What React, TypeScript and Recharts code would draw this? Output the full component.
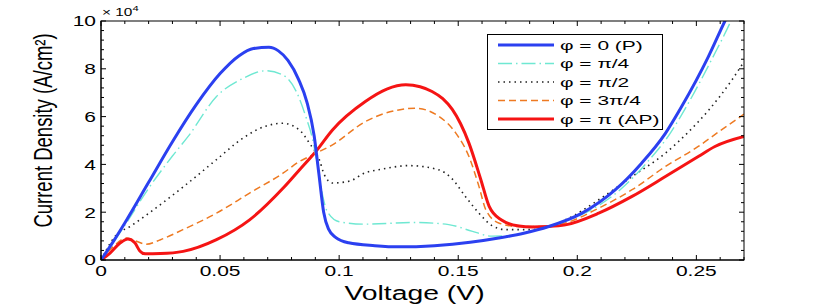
import React from 'react';
import { LineChart, Line, XAxis, YAxis, Legend } from 'recharts';

// ---- data (current density in units of 1e4 A/cm^2, voltage in V) ----
const V_P = [0, 0.005, 0.01, 0.02, 0.03, 0.04, 0.05, 0.058, 0.064, 0.0705, 0.0745, 0.0785, 0.083, 0.0865, 0.0895, 0.0915, 0.0935, 0.0955, 0.0985, 0.104, 0.115, 0.125, 0.14, 0.155, 0.167, 0.1775, 0.188, 0.202, 0.216, 0.227, 0.237, 0.2437, 0.255, 0.262, 0.266];
const J_P = [0, 0.75, 1.55, 3.25, 4.95, 6.5, 7.8, 8.55, 8.85, 8.9, 8.75, 8.35, 7.55, 6.6, 5.2, 3.6, 2.0, 1.3, 0.95, 0.72, 0.6, 0.55, 0.6, 0.74, 0.92, 1.12, 1.4, 1.96, 2.94, 4.05, 5.3, 6.4, 8.5, 10.0, 10.8];

const V_Q1 = [0, 0.005, 0.01, 0.02, 0.03, 0.0366, 0.0485, 0.0596, 0.0694, 0.0764, 0.082, 0.086, 0.0889, 0.0915, 0.0935, 0.095, 0.1, 0.111, 0.132, 0.146, 0.156, 0.164, 0.172, 0.18, 0.19, 0.204, 0.218, 0.229, 0.239, 0.2457, 0.257, 0.2645, 0.268];
const J_Q1 = [0, 0.7, 1.45, 3.0, 4.35, 5.17, 6.84, 7.6, 7.92, 7.74, 7.05, 6.0, 5.03, 3.6, 2.5, 2.03, 1.6, 1.5, 1.57, 1.48, 1.2, 1.0, 1.02, 1.18, 1.48, 2.0, 2.94, 4.05, 5.3, 6.4, 8.5, 10.0, 10.8];

const V_Q2 = [0, 0.006, 0.0125, 0.02, 0.0344, 0.0485, 0.0596, 0.0694, 0.0763, 0.0833, 0.0875, 0.0917, 0.0938, 0.0972, 0.1043, 0.111, 0.118, 0.129, 0.142, 0.147, 0.153, 0.1587, 0.164, 0.17, 0.181, 0.195, 0.209, 0.223, 0.237, 0.2466, 0.255, 0.2647, 0.27];
const J_Q2 = [0, 1.0, 1.42, 1.95, 3.05, 4.2, 5.1, 5.61, 5.72, 5.44, 4.89, 4.19, 3.56, 3.22, 3.3, 3.65, 3.8, 3.95, 3.77, 3.44, 2.66, 1.96, 1.45, 1.27, 1.27, 1.68, 2.52, 3.49, 4.47, 5.35, 6.25, 7.5, 8.3];

const V_Q3 = [0, 0.005, 0.0107, 0.0145, 0.019, 0.025, 0.0344, 0.0485, 0.0624, 0.0764, 0.083, 0.0889, 0.0972, 0.111, 0.125, 0.132, 0.142, 0.149, 0.1545, 0.1587, 0.1616, 0.167, 0.175, 0.185, 0.195, 0.209, 0.223, 0.237, 0.2508, 0.2592, 0.27];
const J_Q3 = [0, 0.55, 0.92, 0.8, 0.66, 0.85, 1.27, 1.96, 2.8, 3.63, 4.1, 4.4, 4.82, 5.79, 6.28, 6.35, 6.0, 5.31, 4.33, 3.08, 2.1, 1.55, 1.4, 1.4, 1.55, 2.17, 2.94, 3.91, 4.75, 5.35, 6.1];

const V_AP = [0, 0.0038, 0.008, 0.0113, 0.0142, 0.0163, 0.0185, 0.025, 0.0345, 0.0485, 0.0624, 0.0764, 0.0833, 0.0903, 0.0972, 0.111, 0.12, 0.128, 0.134, 0.139, 0.1435, 0.1475, 0.151, 0.1545, 0.1595, 0.163, 0.168, 0.1755, 0.181, 0.188, 0.195, 0.209, 0.223, 0.237, 0.2508, 0.2578, 0.27];
const J_AP = [0, 0.29, 0.71, 0.88, 0.72, 0.38, 0.26, 0.27, 0.36, 0.85, 1.68, 3.0, 3.77, 4.55, 5.44, 6.63, 7.15, 7.33, 7.25, 7.05, 6.75, 6.3, 5.7, 4.89, 3.36, 2.24, 1.68, 1.42, 1.38, 1.4, 1.47, 1.96, 2.66, 3.49, 4.33, 4.75, 5.17];

const MAJOR_X = [0, 0.05, 0.1, 0.15, 0.2, 0.25];
const X_LABELS = ['0', '0.05', '0.1', '0.15', '0.2', '0.25'];
const MINOR_X = [0, 0.01, 0.02, 0.03, 0.04, 0.05, 0.06, 0.07, 0.08, 0.09, 0.1, 0.11, 0.12, 0.13, 0.14, 0.15, 0.16, 0.17, 0.18, 0.19, 0.2, 0.21, 0.22, 0.23, 0.24, 0.25, 0.26, 0.27];
const MAJOR_Y = [0, 2, 4, 6, 8, 10];
const Y_LABELS = ['0', '2', '4', '6', '8', '10'];
const MINOR_Y = [0, 0.4, 0.8, 1.2, 1.6, 2, 2.4, 2.8, 3.2, 3.6, 4, 4.4, 4.8, 5.2, 5.6, 6, 6.4, 6.8, 7.2, 7.6, 8, 8.4, 8.8, 9.2, 9.6, 10];

type Series = { key: string; name: string; v: number[]; j: number[]; color: string; width: number; dash?: string };

const SERIES: Series[] = [
  { key: 'q3', name: 'φ = 3π/4', v: V_Q3, j: J_Q3, color: '#ee7a22', width: 1.5, dash: '7 4' },
  { key: 'ap', name: 'φ = π (AP)', v: V_AP, j: J_AP, color: '#f51414', width: 3 },
  { key: 'q2', name: 'φ = π/2', v: V_Q2, j: J_Q2, color: '#222222', width: 1.6, dash: '1.5 4' },
  { key: 'q1', name: 'φ = π/4', v: V_Q1, j: J_Q1, color: '#6fe8d2', width: 1.4, dash: '14 4 1.5 4' },
  { key: 'p', name: 'φ = 0 (P)', v: V_P, j: J_P, color: '#2b40f0', width: 3 },
];
const LEGEND_ORDER = ['p', 'q1', 'q2', 'q3', 'ap'];

// ---- layout ----
const W = 830;
const H = 305;
const MARGIN = { top: 21, right: 86, bottom: 15, left: 41 };
const X_AXIS_H = 30;
const Y_AXIS_W = 60;
const PLOT_W = W - MARGIN.left - MARGIN.right - Y_AXIS_W;
const PLOT_H = H - MARGIN.top - MARGIN.bottom - X_AXIS_H;

const FONT = '"Liberation Sans", Arial, Helvetica, sans-serif';
const SX = 1.4;
const MINOR_LEN = 3;
const MAJOR_LEN = 5;
const TM = 5;

const idxOf = (v: number, list: number[]) => list.findIndex((m) => Math.abs(m - v) < 1e-9);

// bottom axis tick: inward tick on the bottom and the matching one on the top edge of the frame
const BottomTick = (props: any) => {
  const { x, y, payload } = props;
  const i = idxOf(payload.value, MAJOR_X);
  const base = y - TM;
  const top = base - PLOT_H;
  const len = i < 0 ? MINOR_LEN : MAJOR_LEN;
  return (
    <g>
      <path d={`M${x},${base}V${base - len}M${x},${top}V${top + len}`} stroke="#000" strokeWidth={1} fill="none" />
      {i >= 0 && (
        <text transform={`translate(${x},${y}) scale(${SX},1)`} textAnchor="middle" dy="0.71em" fontSize={15} fontFamily={FONT} fill="#000">
          {X_LABELS[i]}
        </text>
      )}
    </g>
  );
};

// left axis tick: inward tick on the left and the matching one on the right edge of the frame
const LeftTick = (props: any) => {
  const { x, y, payload } = props;
  const i = idxOf(payload.value, MAJOR_Y);
  const base = x + TM;
  const right = base + PLOT_W;
  const len = i < 0 ? MINOR_LEN : MAJOR_LEN;
  return (
    <g>
      <path d={`M${base},${y}H${base + len}M${right},${y}H${right - len}`} stroke="#000" strokeWidth={1} fill="none" />
      {i >= 0 && (
        <text transform={`translate(${x},${y}) scale(${SX},1)`} textAnchor="end" dy="0.36em" fontSize={15} fontFamily={FONT} fill="#000">
          {Y_LABELS[i]}
        </text>
      )}
    </g>
  );
};

const XLabel = (props: any) => {
  const vb = props.viewBox || { x: 101, y: 260, width: PLOT_W, height: X_AXIS_H };
  const cx = vb.x + vb.width / 2 - 8;
  return (
    <g>
      <rect x={vb.x} y={vb.y - PLOT_H} width={vb.width} height={PLOT_H} fill="none" stroke="#000" strokeWidth={1} />
      <text transform={`translate(${cx},${vb.y + 40}) scale(1.35,1)`} textAnchor="middle" fontSize={21} fontFamily={FONT} fill="#000">
        Voltage (V)
      </text>
    </g>
  );
};

const YLabel = (props: any) => {
  const vb = props.viewBox || { x: 41, y: 21, width: Y_AXIS_W, height: PLOT_H };
  const cy = vb.y + vb.height / 2 - 10;
  return (
    <g>
      <text transform={`translate(${vb.x + 11},${cy}) rotate(-90) scale(1,${SX})`} textAnchor="middle" fontSize={18.5} fontFamily={FONT} fill="#000">
        Current Density (A/cm²)
      </text>
      <text transform={`translate(${vb.x + vb.width + 1},${vb.y - 5}) scale(${SX},1)`} fontSize={11} fontFamily={FONT} fill="#000">
        × 10<tspan dy={-5} fontSize={8}>4</tspan>
      </text>
    </g>
  );
};

const LegendBox = () => {
  const rows = LEGEND_ORDER.map((k) => SERIES.find((s) => s.key === k)!);
  return (
    <svg width={177} height={97} style={{ display: 'block' }}>
      <rect x={0.5} y={0.5} width={175} height={95} fill="#fff" stroke="#000" />
      {rows.map((s, i) => {
        const y = 11 + i * 18.5;
        return (
          <g key={s.key}>
            <line x1={11} x2={67} y1={y} y2={y} stroke={s.color} strokeWidth={s.width} strokeDasharray={s.dash} />
            <text transform={`translate(73,${y}) scale(1.55,1)`} dy="0.36em" fontSize={13.5} fontFamily={FONT} fill="#000">
              {s.name}
            </text>
          </g>
        );
      })}
    </svg>
  );
};

export default function App() {
  return (
    <div style={{ position: 'absolute', left: 0, top: 0, width: W, height: H, background: '#fff' }}>
      <LineChart width={W} height={H} margin={MARGIN}>
        <XAxis
          xAxisId="b"
          type="number"
          dataKey="v"
          domain={[0, 0.27]}
          allowDataOverflow
          ticks={MINOR_X}
          interval={0}
          tickSize={0}
          tickMargin={TM}
          tick={<BottomTick />}
          height={X_AXIS_H}
          axisLine={{ stroke: '#000' }}
          tickLine={false}
          label={<XLabel />}
        />
        <YAxis
          yAxisId="l"
          type="number"
          domain={[0, 10]}
          allowDataOverflow
          ticks={MINOR_Y}
          interval={0}
          tickSize={0}
          tickMargin={TM}
          tick={<LeftTick />}
          width={Y_AXIS_W}
          axisLine={{ stroke: '#000' }}
          tickLine={false}
          label={<YLabel />}
        />
        {SERIES.map((s) => (
          <Line
            key={s.key}
            xAxisId="b"
            yAxisId="l"
            data={s.v.map((v, i) => ({ v, j: s.j[i] }))}
            dataKey="j"
            name={s.name}
            type="monotone"
            stroke={s.color}
            strokeWidth={s.width}
            strokeDasharray={s.dash}
            dot={false}
            activeDot={false}
            isAnimationActive={false}
          />
        ))}
        <Legend
          layout="vertical"
          align="center"
          verticalAlign="middle"
          content={() => <LegendBox />}
          wrapperStyle={{ position: 'absolute', left: 487, top: 34, width: 177, height: 97 }}
        />
      </LineChart>
    </div>
  );
}
